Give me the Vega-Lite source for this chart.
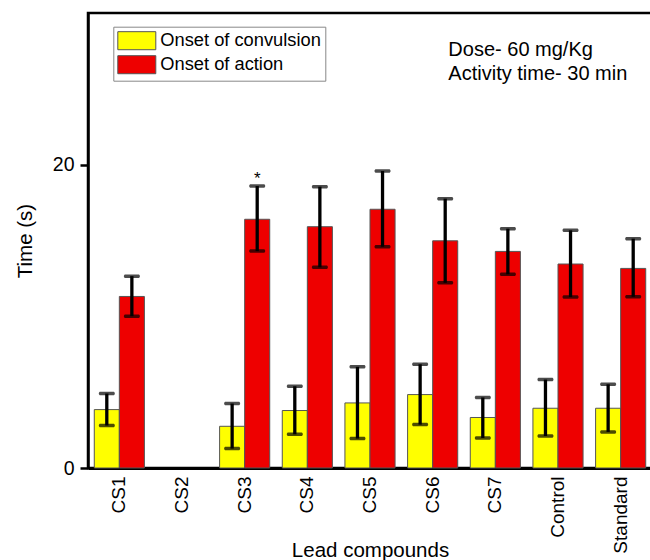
{
  "$schema": "https://vega.github.io/schema/vega-lite/v6.json",
  "width": 564,
  "height": 455,
  "autosize": {"type": "none"},
  "padding": {"left": 88, "top": 13, "right": 0, "bottom": 92},
  "background": "white",
  "config": {
    "view": {"stroke": "black", "strokeWidth": 2.5},
    "font": "Liberation Sans",
    "axisX": {
      "labelAngle": -90, "labelFontSize": 19, "labelColor": "black", "labelPadding": 8,
      "ticks": false, "tickSize": 0, "domainColor": "black", "domainWidth": 3,
      "titleFontSize": 20.5, "titleFontWeight": "normal", "titleColor": "black",
      "titleY": 72, "titleBaseline": "top", "grid": false
    },
    "axisY": {
      "tickSize": 8, "tickWidth": 2.5, "tickColor": "black",
      "domainColor": "black", "domainWidth": 2.5, "labelFontSize": 19.5, "labelColor": "black",
      "labelPadding": 6, "titleFontSize": 20.5, "titleFontWeight": "normal", "titleColor": "black",
      "titlePadding": 17, "grid": false
    }
  },
  "datasets": {
    "bars": [
      {"compound": "CS1", "series": "Onset of convulsion", "mean": 3.85, "lo": 2.80, "hi": 4.91, "sig": ""},
      {"compound": "CS1", "series": "Onset of action", "mean": 11.31, "lo": 10.01, "hi": 12.65, "sig": ""},
      {"compound": "CS3", "series": "Onset of convulsion", "mean": 2.75, "lo": 1.28, "hi": 4.25, "sig": ""},
      {"compound": "CS3", "series": "Onset of action", "mean": 16.40, "lo": 14.30, "hi": 18.59, "sig": "*"},
      {"compound": "CS4", "series": "Onset of convulsion", "mean": 3.79, "lo": 2.22, "hi": 5.39, "sig": ""},
      {"compound": "CS4", "series": "Onset of action", "mean": 15.91, "lo": 13.23, "hi": 18.55, "sig": ""},
      {"compound": "CS5", "series": "Onset of convulsion", "mean": 4.29, "lo": 1.94, "hi": 6.67, "sig": ""},
      {"compound": "CS5", "series": "Onset of action", "mean": 17.06, "lo": 14.59, "hi": 19.58, "sig": ""},
      {"compound": "CS6", "series": "Onset of convulsion", "mean": 4.84, "lo": 2.86, "hi": 6.84, "sig": ""},
      {"compound": "CS6", "series": "Onset of action", "mean": 14.98, "lo": 12.21, "hi": 17.76, "sig": ""},
      {"compound": "CS7", "series": "Onset of convulsion", "mean": 3.33, "lo": 1.98, "hi": 4.65, "sig": ""},
      {"compound": "CS7", "series": "Onset of action", "mean": 14.28, "lo": 12.77, "hi": 15.78, "sig": ""},
      {"compound": "Control", "series": "Onset of convulsion", "mean": 3.94, "lo": 2.11, "hi": 5.83, "sig": ""},
      {"compound": "Control", "series": "Onset of action", "mean": 13.45, "lo": 11.27, "hi": 15.67, "sig": ""},
      {"compound": "Standard", "series": "Onset of convulsion", "mean": 3.94, "lo": 2.38, "hi": 5.52, "sig": ""},
      {"compound": "Standard", "series": "Onset of action", "mean": 13.16, "lo": 11.29, "hi": 15.12, "sig": ""}
    ],
    "notes": [
      {"compound": "CS6", "value": 27.16, "note": "Dose- 60 mg/Kg"},
      {"compound": "CS6", "value": 25.6, "note": "Activity time- 30 min"}
    ]
  },
  "layer": [
    {
      "data": {"name": "bars"},
      "mark": {"type": "bar", "stroke": "#555555", "strokeWidth": 1},
      "encoding": {
        "x": {
          "field": "compound", "type": "nominal",
          "scale": {"domain": ["CS1", "CS2", "CS3", "CS4", "CS5", "CS6", "CS7", "Control", "Standard"], "paddingInner": 0.2, "paddingOuter": 0.1},
          "title": "Lead compounds"
        },
        "xOffset": {"field": "series", "type": "nominal", "scale": {"domain": ["Onset of convulsion", "Onset of action"], "paddingInner": 0, "paddingOuter": 0}},
        "y": {
          "field": "mean", "type": "quantitative",
          "scale": {"domain": [0, 30], "nice": false, "zero": true},
          "title": "Time (s)",
          "axis": {"values": [0, 20]}
        },
        "color": {
          "field": "series", "type": "nominal",
          "scale": {"domain": ["Onset of convulsion", "Onset of action"], "range": ["#ffff00", "#ee0000"]},
          "legend": {
            "orient": "none", "legendX": 25.3, "legendY": 13.7, "title": null, "direction": "vertical",
            "symbolType": "M-1,-0.95H3V0.95H-1Z", "symbolSize": 361,
            "symbolStrokeColor": "#555555", "symbolStrokeWidth": 1, "symbolOpacity": 1,
            "labelFontSize": 18.3, "labelColor": "black", "labelOffset": 23, "labelLimit": 400,
            "fillColor": "white", "strokeColor": "#888888", "padding": 4, "rowPadding": 0
          }
        }
      }
    },
    {
      "data": {"name": "bars"},
      "mark": {"type": "rule", "color": "black", "strokeWidth": 3.3},
      "encoding": {
        "x": {"field": "compound", "type": "nominal", "title": "Lead compounds"},
        "xOffset": {"field": "series", "type": "nominal"},
        "y": {"field": "lo", "type": "quantitative", "title": "Time (s)", "axis": {"values": [0, 20]}},
        "y2": {"field": "hi"}
      }
    },
    {
      "data": {"name": "bars"},
      "mark": {"type": "tick", "color": "black", "thickness": 3.5, "size": 16, "cornerRadius": 1.5},
      "encoding": {
        "x": {"field": "compound", "type": "nominal", "title": "Lead compounds"},
        "xOffset": {"field": "series", "type": "nominal"},
        "y": {"field": "lo", "type": "quantitative", "title": "Time (s)", "axis": {"values": [0, 20]}}
      }
    },
    {
      "data": {"name": "bars"},
      "mark": {"type": "tick", "color": "black", "thickness": 3.5, "size": 16, "cornerRadius": 1.5},
      "encoding": {
        "x": {"field": "compound", "type": "nominal", "title": "Lead compounds"},
        "xOffset": {"field": "series", "type": "nominal"},
        "y": {"field": "hi", "type": "quantitative", "title": "Time (s)", "axis": {"values": [0, 20]}}
      }
    },
    {
      "data": {"name": "bars"},
      "mark": {"type": "text", "fontSize": 17, "baseline": "alphabetic", "dy": -2, "color": "black"},
      "encoding": {
        "x": {"field": "compound", "type": "nominal", "title": "Lead compounds"},
        "xOffset": {"field": "series", "type": "nominal"},
        "y": {"field": "hi", "type": "quantitative", "title": "Time (s)", "axis": {"values": [0, 20]}},
        "text": {"field": "sig"}
      }
    },
    {
      "data": {"name": "notes"},
      "mark": {"type": "text", "fontSize": 20, "align": "left", "baseline": "alphabetic", "dx": 15.7, "color": "black"},
      "encoding": {
        "x": {"field": "compound", "type": "nominal", "title": "Lead compounds"},
        "y": {"field": "value", "type": "quantitative", "title": "Time (s)", "axis": {"values": [0, 20]}},
        "text": {"field": "note"}
      }
    }
  ]
}
